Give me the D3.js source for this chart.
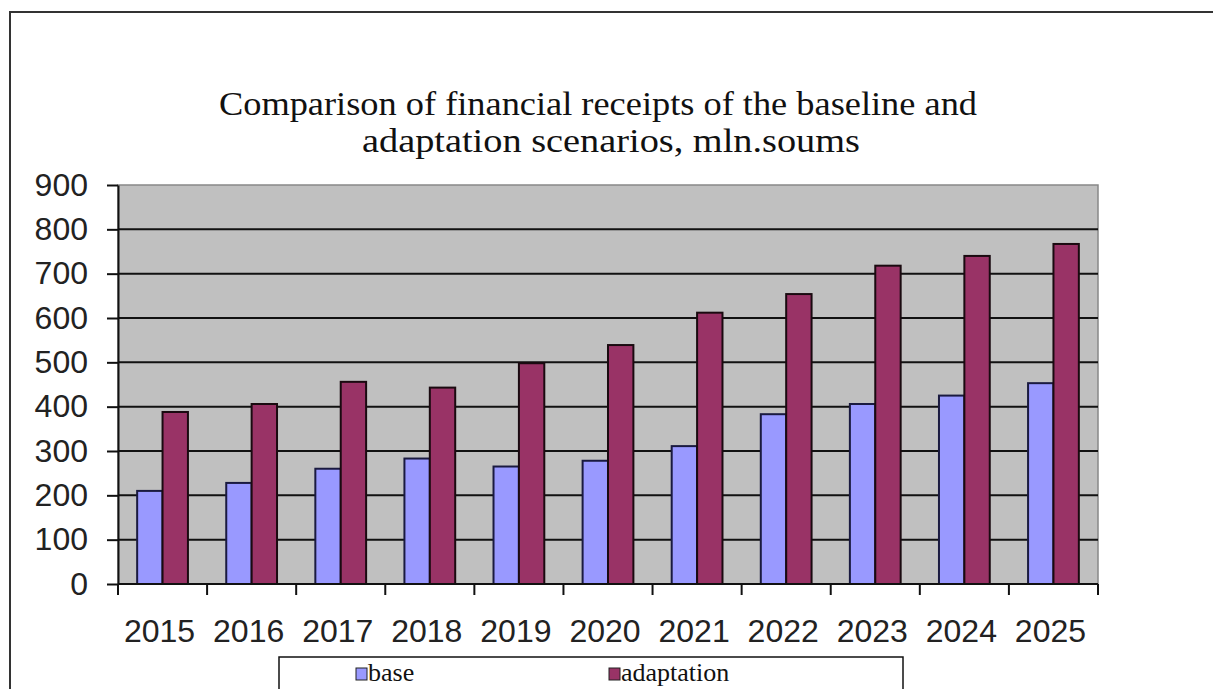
<!DOCTYPE html>
<html>
<head>
<meta charset="utf-8">
<script src="https://cdn.jsdelivr.net/npm/d3@7"></script>
<style>
  body { margin: 0; background: #fff; }
  svg { display: block; }
</style>
</head>
<body>
<div id="chart"></div>
<script>
// chart values
const years = ['2015', '2016', '2017', '2018', '2019', '2020', '2021', '2022', '2023', '2024', '2025'];
const seriesNames = ['base', 'adaptation'];
const baseValues = [210, 228, 260, 283, 265, 278, 311, 383, 406, 425, 453];
const adaptationValues = [388, 406, 456, 443, 498, 539, 612, 654, 718, 740, 767];
const yTicks = [0, 100, 200, 300, 400, 500, 600, 700, 800, 900];
const titleLines = ['Comparison of financial receipts of the baseline and', 'adaptation scenarios, mln.soums'];

const colors = { base: '#9999ff', adaptation: '#993366' };

const width = 1213, height = 689;
const plot = { left: 118, right: 1098, top: 185, bottom: 584 };

const svg = d3.select('#chart').append('svg')
  .attr('width', width)
  .attr('height', height);

// outer frame (only top and left edges show in the picture)
svg.append('path')
  .attr('d', `M10,${height + 5} L10,12 L${width + 5},12`)
  .attr('fill', 'none')
  .attr('stroke', '#333')
  .attr('stroke-width', 2);

// title - the original serif is wider than Times, so stretch a little
const titleLayout = [{ x: 598, w: 758 }, { x: 611, w: 498 }];
const title = svg.append('text')
  .attr('text-anchor', 'middle')
  .style('font-family', '"Liberation Serif", "Times New Roman", serif')
  .style('font-size', '34px')
  .attr('fill', '#111');
title.selectAll('tspan')
  .data(titleLines)
  .join('tspan')
  .attr('x', (d, i) => titleLayout[i].x)
  .attr('y', (d, i) => 115 + i * 37)
  .attr('textLength', (d, i) => titleLayout[i].w)
  .attr('lengthAdjust', 'spacingAndGlyphs')
  .text(d => d);

// scales
const x = d3.scaleBand()
  .domain(years)
  .range([plot.left, plot.right])
  .paddingInner(0.43)
  .paddingOuter(0.215);

const xSeries = d3.scaleBand()
  .domain(seriesNames)
  .range([0, x.bandwidth()]);

const y = d3.scaleLinear()
  .domain([0, 900])
  .range([plot.bottom, plot.top]);

// plot background
svg.append('rect')
  .attr('x', plot.left)
  .attr('y', plot.top)
  .attr('width', plot.right - plot.left)
  .attr('height', plot.bottom - plot.top)
  .attr('fill', '#c0c0c0')
  .attr('stroke', '#888')
  .attr('stroke-width', 1.5);

// gridlines
svg.append('g')
  .selectAll('line')
  .data(yTicks.filter(d => d > 0 && d < 900))
  .join('line')
  .attr('x1', plot.left)
  .attr('x2', plot.right)
  .attr('y1', d => y(d))
  .attr('y2', d => y(d))
  .attr('stroke', '#111')
  .attr('stroke-width', 2);

// bars
const rows = years.map((yr, i) => ({ year: yr, base: baseValues[i], adaptation: adaptationValues[i] }));

const groups = svg.append('g')
  .selectAll('g')
  .data(rows)
  .join('g')
  .attr('transform', d => `translate(${x(d.year)},0)`);

groups.selectAll('rect')
  .data(d => seriesNames.map(k => ({ key: k, value: d[k] })))
  .join('rect')
  .attr('x', d => xSeries(d.key))
  .attr('y', d => y(d.value))
  .attr('width', xSeries.bandwidth())
  .attr('height', d => y(0) - y(d.value))
  .attr('fill', d => colors[d.key])
  .attr('stroke', d => d.key === 'base' ? '#1a1a40' : '#1a0a10')
  .attr('stroke-width', 2);

// y axis
const yAxis = svg.append('g')
  .attr('transform', `translate(${plot.left},0)`)
  .call(d3.axisLeft(y).tickValues(yTicks).tickSize(11).tickPadding(19).tickSizeOuter(0));
yAxis.select('.domain').attr('stroke', '#111').attr('stroke-width', 2);
yAxis.selectAll('.tick line').attr('stroke', '#111').attr('stroke-width', 2);
yAxis.selectAll('.tick text')
  .style('font-family', '"Liberation Sans", Arial, sans-serif')
  .style('font-size', '32px')
  .attr('fill', '#222');

// x axis: ticks at category boundaries
const xAxis = svg.append('g')
  .attr('transform', `translate(0,${plot.bottom})`);
xAxis.append('line')
  .attr('x1', plot.left)
  .attr('x2', plot.right)
  .attr('stroke', '#111')
  .attr('stroke-width', 2);
xAxis.selectAll('.xtick')
  .data(years.concat(['end']))
  .join('line')
  .attr('class', 'xtick')
  .attr('x1', (d, i) => plot.left + i * x.step())
  .attr('x2', (d, i) => plot.left + i * x.step())
  .attr('y1', 0)
  .attr('y2', 11)
  .attr('stroke', '#111')
  .attr('stroke-width', 2);
xAxis.selectAll('.xlabel')
  .data(years)
  .join('text')
  .attr('class', 'xlabel')
  .attr('x', d => x(d) + x.bandwidth() / 2 - 3)
  .attr('y', 58)
  .attr('text-anchor', 'middle')
  .style('font-family', '"Liberation Sans", Arial, sans-serif')
  .style('font-size', '32px')
  .attr('fill', '#222')
  .text(d => d);

// legend
const legend = svg.append('g');
legend.append('rect')
  .attr('x', 279)
  .attr('y', 657)
  .attr('width', 624)
  .attr('height', 60)
  .attr('fill', '#fff')
  .attr('stroke', '#111')
  .attr('stroke-width', 1.5);

const legendItems = legend.selectAll('g.item')
  .data(seriesNames)
  .join('g')
  .attr('class', 'item')
  .attr('transform', (d, i) => `translate(${i === 0 ? 356 : 609},668)`);
legendItems.append('rect')
  .attr('width', 11)
  .attr('height', 12)
  .attr('fill', d => colors[d])
  .attr('stroke', '#222')
  .attr('stroke-width', 1);
legendItems.append('text')
  .attr('x', 12)
  .attr('y', 13)
  .style('font-family', '"Liberation Serif", "Times New Roman", serif')
  .style('font-size', '26px')
  .attr('fill', '#111')
  .text(d => d);
</script>
</body>
</html>
